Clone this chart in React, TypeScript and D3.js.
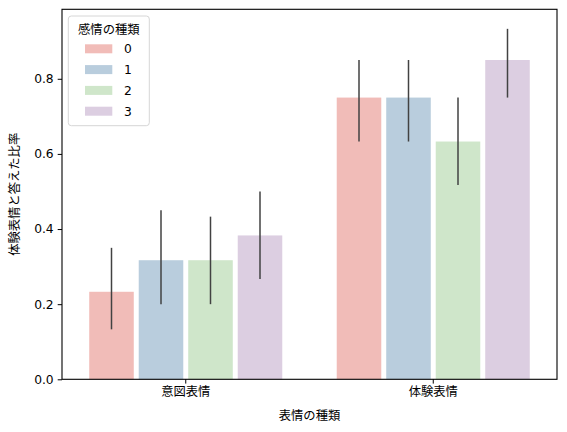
import React, { useEffect, useRef } from "react";
import * as d3 from "d3";

// Chart data
const expressionTypes = ["意図表情", "体験表情"];
const emotionTypes = ["0", "1", "2", "3"];
const ratioIntended = [0.233, 0.317, 0.317, 0.383];
const ratioExperienced = [0.75, 0.75, 0.633, 0.85];
const ciLowIntended = [0.133, 0.2, 0.2, 0.267];
const ciHighIntended = [0.35, 0.45, 0.433, 0.5];
const ciLowExperienced = [0.633, 0.633, 0.517, 0.75];
const ciHighExperienced = [0.85, 0.85, 0.75, 0.933];
const yTicks = [0, 0.2, 0.4, 0.6, 0.8];
const palette = ["#f1bcb8", "#b9cddd", "#cfe6ca", "#dccee1"];

const WIDTH = 567;
const HEIGHT = 432;
const FONT = "'DejaVu Sans', 'Noto Sans CJK JP', sans-serif";

const App: React.FC = () => {
  const svgRef = useRef<SVGSVGElement | null>(null);

  useEffect(() => {
    const svg = d3.select(svgRef.current);
    svg.selectAll("*").remove();

    const margin = { left: 62, right: 10, top: 9.3, bottom: 52.7 };
    const plotRight = WIDTH - margin.right;
    const plotBottom = HEIGHT - margin.bottom;

    const x = d3
      .scaleBand<string>()
      .domain(expressionTypes)
      .range([margin.left, plotRight])
      .padding(0);
    const hue = d3
      .scaleBand<string>()
      .domain(emotionTypes)
      .range([0, x.bandwidth() * 0.8])
      .paddingInner(0);
    const y = d3.scaleLinear().domain([0, 0.985]).range([plotBottom, margin.top]);

    // build rows from the arrays
    const rows = expressionTypes.flatMap((cat, ci) =>
      emotionTypes.map((emo, ei) => ({
        cat,
        emo,
        color: palette[ei],
        value: ci === 0 ? ratioIntended[ei] : ratioExperienced[ei],
        lo: ci === 0 ? ciLowIntended[ei] : ciLowExperienced[ei],
        hi: ci === 0 ? ciHighIntended[ei] : ciHighExperienced[ei],
      }))
    );

    const barW = hue.bandwidth() * 0.9;
    const center = (d: { cat: string; emo: string }) =>
      x(d.cat)! + x.bandwidth() * 0.1 + hue(d.emo)! + hue.bandwidth() / 2;

    const g = svg.append("g");

    // bars
    g.selectAll("rect.bar")
      .data(rows)
      .join("rect")
      .attr("class", "bar")
      .attr("x", (d) => center(d) - barW / 2)
      .attr("width", barW)
      .attr("y", (d) => y(d.value))
      .attr("height", (d) => y(0) - y(d.value))
      .attr("fill", (d) => d.color);

    // error bars
    g.selectAll("line.err")
      .data(rows)
      .join("line")
      .attr("class", "err")
      .attr("x1", (d) => center(d))
      .attr("x2", (d) => center(d))
      .attr("y1", (d) => y(d.lo))
      .attr("y2", (d) => y(d.hi))
      .attr("stroke", "#424242")
      .attr("stroke-width", 1.5);

    // frame
    svg
      .append("rect")
      .attr("x", margin.left)
      .attr("y", margin.top)
      .attr("width", plotRight - margin.left)
      .attr("height", plotBottom - margin.top)
      .attr("fill", "none")
      .attr("stroke", "#000")
      .attr("stroke-width", 1.1);

    // y axis
    const yAxis = svg
      .append("g")
      .attr("transform", `translate(${margin.left},0)`)
      .call(
        d3
          .axisLeft(y)
          .tickValues(yTicks)
          .tickFormat(d3.format(".1f"))
          .tickSize(4.3)
          .tickPadding(4)
      );
    yAxis.select(".domain").remove();
    yAxis.selectAll("line").attr("stroke", "#000").attr("stroke-width", 1);
    yAxis
      .selectAll("text")
      .attr("fill", "#000")
      .style("font-family", FONT)
      .style("font-size", "12.3px");

    // x axis
    const xAxis = svg
      .append("g")
      .attr("transform", `translate(0,${plotBottom})`)
      .call(d3.axisBottom(x).tickSize(4.3).tickPadding(4));
    xAxis.select(".domain").remove();
    xAxis.selectAll("line").attr("stroke", "#000").attr("stroke-width", 1);
    xAxis
      .selectAll("text")
      .attr("fill", "#000")
      .style("font-family", FONT)
      .style("font-size", "12.3px");

    // axis labels
    svg
      .append("text")
      .attr("x", (margin.left + plotRight) / 2)
      .attr("y", 420)
      .attr("text-anchor", "middle")
      .style("font-family", FONT)
      .style("font-size", "12.3px")
      .text("表情の種類");

    svg
      .append("text")
      .attr("transform", `translate(19,${(margin.top + plotBottom) / 2}) rotate(-90)`)
      .attr("text-anchor", "middle")
      .style("font-family", FONT)
      .style("font-size", "12.3px")
      .text("体験表情と答えた比率");

    // legend
    const legend = svg.append("g");
    legend
      .append("rect")
      .attr("x", 68.3)
      .attr("y", 16)
      .attr("width", 81)
      .attr("height", 109.7)
      .attr("rx", 3)
      .attr("fill", "#fff")
      .attr("fill-opacity", 0.8)
      .attr("stroke", "#d6d6d6")
      .attr("stroke-width", 1);
    legend
      .append("text")
      .attr("x", 108.8)
      .attr("y", 34)
      .attr("text-anchor", "middle")
      .style("font-family", FONT)
      .style("font-size", "12.3px")
      .text("感情の種類");

    const items = legend
      .selectAll("g.item")
      .data(emotionTypes)
      .join("g")
      .attr("class", "item")
      .attr("transform", (_, i) => `translate(0,${48.8 + i * 20.8})`);
    items
      .append("rect")
      .attr("x", 85)
      .attr("y", -4.5)
      .attr("width", 27.3)
      .attr("height", 9)
      .attr("fill", (_, i) => palette[i]);
    items
      .append("text")
      .attr("x", 124)
      .attr("y", 0)
      .attr("dy", "0.36em")
      .style("font-family", FONT)
      .style("font-size", "12.3px")
      .text((d) => d);
  }, []);

  return (
    <svg
      ref={svgRef}
      width={WIDTH}
      height={HEIGHT}
      style={{ position: "absolute", left: 0, top: 0, background: "#fff" }}
    ></svg>
  );
};

export default App;
